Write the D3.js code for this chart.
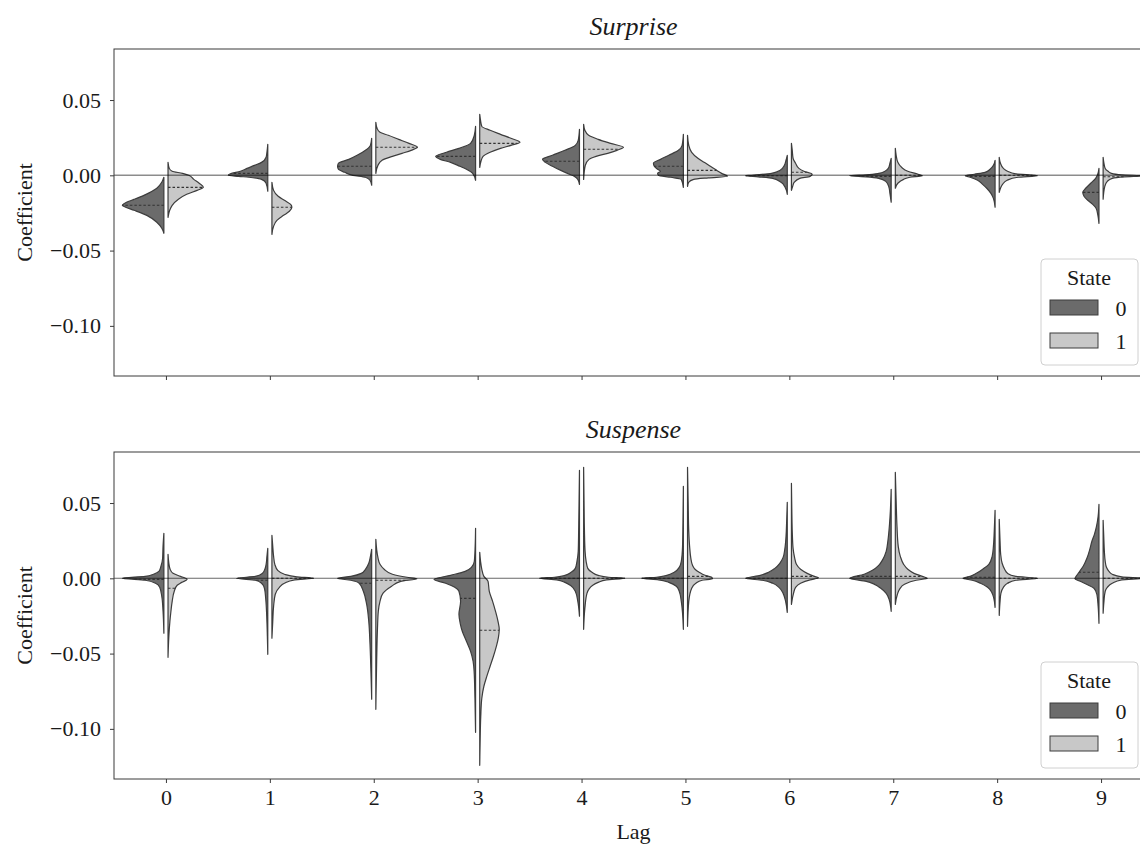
<!DOCTYPE html>
<html>
<head>
<meta charset="utf-8">
<script src="https://cdn.jsdelivr.net/npm/d3@7"></script>
<style>
  body { margin: 0; background: #fff; }
  text { font-family: "Liberation Serif", "Times New Roman", serif; fill: #1a1a1a; }
</style>
</head>
<body>
<div id="chart"></div>
<script>

// lags on the x axis, legend states, y ticks
const lags = [0, 1, 2, 3, 4, 5, 6, 7, 8, 9];
const states = ["0", "1"];
const yTicks = [0.05, 0.00, -0.05, -0.10];
const panelTitles = ["Surprise", "Suspense"];

// violin halves: [coefficient, relative density width]
const surprise0 = [
  [[-0.0013,0],[-0.0046,0.05],[-0.0086,0.17],[-0.0133,0.48],[-0.016,0.72],[-0.0179,0.9],[-0.0199,1.0],[-0.0212,0.92],[-0.0232,0.72],[-0.0266,0.41],[-0.0312,0.17],[-0.0352,0.05],[-0.0385,0]],
  [[0.0206,0],[0.0153,0.02],[0.012,0.04],[0.0086,0.15],[0.0066,0.32],[0.0046,0.5],[0.0027,0.66],[0.001,0.9],[0,0.95],[-0.0007,0.7],[-0.0013,0.45],[-0.0027,0.15],[-0.0053,0.04],[-0.0106,0]],
  [[0.0246,0],[0.0199,0.03],[0.0166,0.15],[0.0133,0.35],[0.0106,0.55],[0.008,0.8],[0.006,0.82],[0.004,0.8],[0.002,0.65],[0,0.45],[-0.0013,0.15],[-0.0033,0.04],[-0.0066,0]],
  [[0.0325,0],[0.0266,0.03],[0.0212,0.12],[0.0179,0.4],[0.0153,0.7],[0.0126,0.96],[0.0106,0.85],[0.0086,0.6],[0.006,0.38],[0.004,0.22],[0.0013,0.07],[-0.0033,0]],
  [[0.0305,0],[0.0232,0.03],[0.0199,0.1],[0.0166,0.35],[0.0133,0.65],[0.0106,0.89],[0.0086,0.82],[0.006,0.65],[0.0033,0.45],[0.0013,0.29],[-0.0007,0.12],[-0.0027,0.04],[-0.006,0]],
  [[0.0272,0],[0.0199,0.03],[0.0166,0.12],[0.0133,0.35],[0.0106,0.55],[0.008,0.72],[0.006,0.7],[0.004,0.62],[0.0027,0.55],[0.0013,0.62],[0,0.6],[-0.0013,0.3],[-0.0027,0.05],[-0.008,0]],
  [[0.0133,0],[0.01,0.03],[0.0066,0.07],[0.0033,0.17],[0.0013,0.38],[0,0.9],[-0.0003,1.0],[-0.001,0.7],[-0.002,0.35],[-0.0046,0.15],[-0.008,0.05],[-0.0126,0]],
  [[0.0113,0],[0.008,0.03],[0.0046,0.07],[0.0027,0.15],[0.0013,0.3],[0.0003,0.6],[-0.0003,1.0],[-0.001,0.6],[-0.002,0.3],[-0.004,0.13],[-0.0073,0.06],[-0.012,0.03],[-0.0179,0]],
  [[0.01,0],[0.0066,0.04],[0.004,0.12],[0.002,0.24],[0.0007,0.5],[-0.0003,0.72],[-0.0013,0.6],[-0.0033,0.42],[-0.006,0.3],[-0.0086,0.2],[-0.012,0.1],[-0.0153,0.04],[-0.0212,0]],
  [[0.0046,0],[0.0007,0.03],[-0.002,0.08],[-0.0053,0.2],[-0.0086,0.32],[-0.0113,0.39],[-0.0139,0.36],[-0.0166,0.27],[-0.0193,0.15],[-0.0219,0.07],[-0.0259,0.03],[-0.0319,0]]
];
const surprise1 = [
  [[0.0086,0],[0.0046,0.03],[0.0027,0.1],[0.0013,0.35],[0,0.5],[-0.0027,0.62],[-0.0053,0.75],[-0.008,0.85],[-0.01,0.7],[-0.0126,0.45],[-0.0159,0.25],[-0.0199,0.1],[-0.0232,0.04],[-0.0279,0]],
  [[-0.0046,0],[-0.01,0.04],[-0.0139,0.15],[-0.0166,0.3],[-0.0193,0.45],[-0.0212,0.48],[-0.0239,0.42],[-0.0266,0.28],[-0.0299,0.12],[-0.0339,0.04],[-0.0392,0]],
  [[0.0352,0],[0.0312,0.03],[0.0286,0.1],[0.0266,0.3],[0.0239,0.55],[0.0212,0.8],[0.0186,1.0],[0.0166,0.85],[0.0146,0.63],[0.0126,0.4],[0.01,0.15],[0.0066,0.05],[0.0013,0]],
  [[0.0405,0],[0.0365,0.02],[0.0325,0.05],[0.0299,0.25],[0.0272,0.5],[0.0246,0.75],[0.0219,0.97],[0.0199,0.75],[0.0179,0.5],[0.0153,0.25],[0.0126,0.08],[0.0093,0.03],[0.0053,0]],
  [[0.0339,0],[0.0299,0.03],[0.0266,0.12],[0.0239,0.35],[0.0212,0.65],[0.0186,0.96],[0.0166,0.8],[0.0146,0.58],[0.0126,0.3],[0.0106,0.13],[0.0066,0.04],[-0.0027,0]],
  [[0.0266,0],[0.0199,0.03],[0.0153,0.1],[0.0113,0.25],[0.0086,0.4],[0.006,0.55],[0.0033,0.7],[0.0013,0.82],[-0.0007,0.96],[-0.0017,0.5],[-0.0027,0.15],[-0.0046,0.03],[-0.0073,0]],
  [[0.0212,0],[0.0166,0.02],[0.0113,0.04],[0.008,0.1],[0.0046,0.18],[0.0027,0.3],[0.0007,0.5],[-0.0007,0.45],[-0.002,0.2],[-0.0046,0.07],[-0.0073,0.03],[-0.01,0]],
  [[0.0179,0],[0.0133,0.02],[0.0086,0.06],[0.0053,0.15],[0.0027,0.3],[0.0007,0.55],[-0.0003,0.65],[-0.0013,0.35],[-0.0027,0.2],[-0.0053,0.06],[-0.0086,0]],
  [[0.012,0],[0.008,0.03],[0.0046,0.1],[0.0027,0.2],[0.001,0.4],[-0.0003,0.92],[-0.0013,0.45],[-0.0033,0.19],[-0.006,0.08],[-0.0086,0.03],[-0.0113,0]],
  [[0.012,0],[0.008,0.02],[0.0046,0.05],[0.0027,0.12],[0.0013,0.2],[0.0003,0.45],[-0.0003,1.0],[-0.001,0.5],[-0.002,0.22],[-0.004,0.1],[-0.0073,0.04],[-0.0159,0]]
];
const suspense0 = [
  [[0.0299,0],[0.0212,0.02],[0.0133,0.03],[0.008,0.07],[0.0046,0.12],[0.0027,0.25],[0.0013,0.45],[0,1.0],[-0.0013,0.45],[-0.0033,0.2],[-0.006,0.1],[-0.012,0.05],[-0.0219,0.02],[-0.0365,0]],
  [[0.0199,0],[0.0146,0.02],[0.0093,0.04],[0.006,0.07],[0.0033,0.13],[0.0013,0.3],[0,0.75],[-0.0013,0.3],[-0.0033,0.15],[-0.0066,0.08],[-0.0133,0.05],[-0.0252,0.025],[-0.0385,0.01],[-0.0505,0]],
  [[0.0193,0],[0.0146,0.03],[0.01,0.07],[0.006,0.15],[0.0033,0.25],[0.0013,0.5],[0,0.82],[-0.0013,0.5],[-0.0033,0.3],[-0.0086,0.2],[-0.0173,0.12],[-0.0286,0.07],[-0.0438,0.04],[-0.0598,0.02],[-0.0803,0]],
  [[0.0332,0],[0.0212,0.01],[0.0113,0.03],[0.0073,0.1],[0.0046,0.25],[0.002,0.6],[-0.0007,1.0],[-0.0033,0.72],[-0.006,0.5],[-0.0086,0.4],[-0.0153,0.36],[-0.0239,0.4],[-0.0299,0.37],[-0.0352,0.32],[-0.0418,0.22],[-0.0485,0.12],[-0.0551,0.06],[-0.0618,0.035],[-0.0797,0.015],[-0.1023,0]],
  [[0.0717,0],[0.0511,0.01],[0.0312,0.02],[0.0179,0.03],[0.0113,0.06],[0.0066,0.1],[0.004,0.2],[0.002,0.35],[0.0007,0.6],[0,0.96],[-0.001,0.55],[-0.0027,0.35],[-0.0046,0.22],[-0.0086,0.1],[-0.0153,0.04],[-0.0252,0]],
  [[0.0611,0],[0.0378,0.01],[0.0212,0.02],[0.0113,0.05],[0.0073,0.1],[0.004,0.22],[0.002,0.4],[0.0007,0.65],[0,1.0],[-0.001,0.6],[-0.0027,0.35],[-0.0053,0.17],[-0.0086,0.1],[-0.0153,0.05],[-0.0232,0.02],[-0.0339,0]],
  [[0.0505,0],[0.0378,0.015],[0.0279,0.03],[0.0193,0.06],[0.0139,0.1],[0.01,0.18],[0.0066,0.3],[0.004,0.45],[0.002,0.65],[0,1.0],[-0.0013,0.6],[-0.0033,0.35],[-0.006,0.2],[-0.01,0.1],[-0.0153,0.04],[-0.0226,0]],
  [[0.0591,0],[0.0445,0.02],[0.0359,0.04],[0.0246,0.08],[0.0179,0.12],[0.0126,0.2],[0.0086,0.3],[0.0053,0.45],[0.0027,0.65],[0,1.0],[-0.002,0.6],[-0.004,0.4],[-0.0066,0.25],[-0.01,0.12],[-0.0139,0.05],[-0.0219,0]],
  [[0.0452,0],[0.0312,0.02],[0.0212,0.04],[0.0146,0.07],[0.0093,0.15],[0.006,0.3],[0.0033,0.45],[0.0013,0.6],[0,0.77],[-0.0013,0.55],[-0.0033,0.35],[-0.006,0.18],[-0.0093,0.08],[-0.0133,0.03],[-0.0193,0]],
  [[0.0491,0],[0.0412,0.02],[0.0345,0.06],[0.0292,0.11],[0.0246,0.17],[0.0193,0.22],[0.0133,0.29],[0.008,0.38],[0.004,0.48],[0.0013,0.55],[-0.0003,0.58],[-0.002,0.45],[-0.004,0.3],[-0.0066,0.12],[-0.0106,0.05],[-0.0186,0.02],[-0.0299,0]]
];
const suspense1 = [
  [[0.0159,0],[0.01,0.02],[0.006,0.05],[0.0033,0.12],[0.0013,0.3],[-0.0007,0.46],[-0.0027,0.33],[-0.0046,0.22],[-0.0086,0.15],[-0.0153,0.1],[-0.0219,0.07],[-0.0286,0.045],[-0.0385,0.02],[-0.0525,0]],
  [[0.0286,0],[0.0212,0.02],[0.0146,0.04],[0.0093,0.07],[0.0053,0.14],[0.0027,0.3],[0.001,0.6],[0,1.0],[-0.001,0.55],[-0.0033,0.3],[-0.006,0.18],[-0.0106,0.08],[-0.0186,0.04],[-0.0286,0.02],[-0.0398,0]],
  [[0.0259,0],[0.0193,0.02],[0.0139,0.05],[0.0093,0.1],[0.006,0.2],[0.0027,0.4],[0.0007,0.75],[-0.0003,0.99],[-0.002,0.6],[-0.0053,0.38],[-0.01,0.17],[-0.0153,0.1],[-0.0219,0.06],[-0.0332,0.04],[-0.0551,0.02],[-0.087,0]],
  [[0.0173,0],[0.0113,0.02],[0.006,0.05],[0.0013,0.1],[-0.002,0.2],[-0.0086,0.23],[-0.0153,0.31],[-0.0219,0.38],[-0.0286,0.44],[-0.0339,0.47],[-0.0392,0.45],[-0.0452,0.4],[-0.0518,0.33],[-0.0584,0.25],[-0.0651,0.17],[-0.0717,0.1],[-0.0797,0.05],[-0.0916,0.025],[-0.1082,0.01],[-0.1242,0]],
  [[0.0737,0],[0.0511,0.01],[0.0312,0.02],[0.0179,0.035],[0.0113,0.06],[0.0066,0.1],[0.004,0.2],[0.002,0.35],[0.0007,0.6],[0,0.99],[-0.001,0.55],[-0.0027,0.35],[-0.0046,0.22],[-0.01,0.08],[-0.0199,0.03],[-0.0339,0]],
  [[0.0737,0],[0.0511,0.015],[0.0312,0.03],[0.0212,0.05],[0.0133,0.08],[0.0086,0.12],[0.006,0.18],[0.004,0.28],[0.002,0.42],[0.0007,0.58],[-0.0003,0.6],[-0.0013,0.35],[-0.0033,0.2],[-0.0066,0.1],[-0.0153,0.03],[-0.0319,0]],
  [[0.0631,0],[0.0445,0.01],[0.0312,0.02],[0.0199,0.04],[0.0133,0.08],[0.0093,0.12],[0.006,0.22],[0.0033,0.38],[0.0013,0.55],[0.0003,0.65],[-0.001,0.45],[-0.0033,0.22],[-0.006,0.1],[-0.01,0.05],[-0.0173,0]],
  [[0.0704,0],[0.0511,0.02],[0.0345,0.04],[0.0212,0.07],[0.0146,0.12],[0.0093,0.2],[0.006,0.3],[0.0033,0.45],[0.0013,0.65],[0,0.77],[-0.0013,0.5],[-0.004,0.22],[-0.0073,0.1],[-0.0106,0.05],[-0.0173,0]],
  [[0.0392,0],[0.0246,0.02],[0.0159,0.035],[0.01,0.07],[0.006,0.13],[0.0033,0.2],[0.0013,0.4],[0,0.92],[-0.0013,0.4],[-0.0033,0.2],[-0.006,0.1],[-0.01,0.04],[-0.0153,0.02],[-0.0246,0]],
  [[0.0385,0],[0.0279,0.015],[0.0179,0.03],[0.0113,0.05],[0.0073,0.08],[0.0046,0.14],[0.0027,0.22],[0.001,0.45],[0,1.0],[-0.001,0.45],[-0.0033,0.22],[-0.006,0.1],[-0.0086,0.05],[-0.0153,0.02],[-0.0232,0]]
];

// median (dashed line) of each half
const surpriseMed0 = [-0.0199, 0.0013, 0.006, 0.0126, 0.0093, 0.006, -0.0003, -0.0007, -0.0007, -0.0113];
const surpriseMed1 = [-0.008, -0.0212, 0.0186, 0.0212, 0.0173, 0.0033, 0.002, 0.0, 0.0, -0.001];
const suspenseMed0 = [-0.0007, -0.0013, -0.0033, -0.0133, 0, 0, 0, 0.0013, 0.0007, 0.004];
const suspenseMed1 = [-0.0066, 0, -0.0013, -0.0345, 0, 0.0013, 0.0013, 0.0013, 0, 0];

const width = 1140, height = 847;
const fills = ["#6b6b6b", "#c8c8c8"];
const edge = "#3d3d3d";

const svg = d3.select("#chart").append("svg")
  .attr("width", width)
  .attr("height", height);

const x = d3.scaleLinear().domain([-0.5, 9.5]).range([114, 1153]);
const halfW = x(0.4) - x(0);
const gap = x(0.02) - x(0);

const panels = [
  { top: 49, bottom: 376, title: panelTitles[0], halves: [surprise0, surprise1], meds: [surpriseMed0, surpriseMed1], zw: 1.6, zo: 0.45 },
  { top: 452, bottom: 779, title: panelTitles[1], halves: [suspense0, suspense1], meds: [suspenseMed0, suspenseMed1], zw: 1.1, zo: 0.6 }
];

// width of a profile at value v (linear between read points)
function widthAt(prof, v) {
  for (let i = 0; i < prof.length - 1; i++) {
    const a = prof[i], b = prof[i + 1];
    if (v <= a[0] && v >= b[0]) {
      const t = a[0] === b[0] ? 0 : (a[0] - v) / (a[0] - b[0]);
      return a[1] + t * (b[1] - a[1]);
    }
  }
  return 0;
}

panels.forEach((p, pi) => {
  const y = d3.scaleLinear().domain([-0.1333, 0.0839]).range([p.bottom, p.top]);
  const g = svg.append("g");

  g.append("clipPath").attr("id", "clip" + pi)
    .append("rect").attr("x", 114).attr("y", p.top)
    .attr("width", 1153 - 114).attr("height", p.bottom - p.top);

  const plot = g.append("g").attr("clip-path", `url(#clip${pi})`);

  p.halves.forEach((series, s) => {
    const side = s === 0 ? -1 : 1;
    series.forEach((prof, i) => {
      const base = x(lags[i]) + side * gap;
      const area = d3.area()
        .curve(d3.curveMonotoneY)
        .y(d => y(d[0]))
        .x0(base)
        .x1(d => base + side * d[1] * halfW);
      plot.append("path")
        .attr("d", area(prof))
        .attr("fill", fills[s])
        .attr("stroke", edge)
        .attr("stroke-width", 1.2)
        .attr("stroke-linejoin", "round");

      const m = p.meds[s][i];
      const mw = widthAt(prof, m);
      plot.append("line")
        .attr("x1", base).attr("x2", base + side * mw * halfW)
        .attr("y1", y(m)).attr("y2", y(m))
        .attr("stroke", "#333")
        .attr("stroke-width", 1.1)
        .attr("stroke-dasharray", "2.5,2");
    });
  });

  // zero line
  plot.append("line")
    .attr("x1", 114).attr("x2", 1153)
    .attr("y1", y(0)).attr("y2", y(0))
    .attr("stroke", "#000")
    .attr("stroke-opacity", p.zo)
    .attr("stroke-width", p.zw);

  // spines
  g.append("rect")
    .attr("x", 114).attr("y", p.top)
    .attr("width", 1153 - 114).attr("height", p.bottom - p.top)
    .attr("fill", "none")
    .attr("stroke", "#3a3a3a")
    .attr("stroke-width", 1);

  const yAxis = g.append("g")
    .attr("transform", "translate(114,0)")
    .call(d3.axisLeft(y).tickValues(yTicks).tickSize(4).tickPadding(9).tickFormat(d3.format(".2f")));
  const xAxis = g.append("g")
    .attr("transform", `translate(0,${p.bottom})`)
    .call(d3.axisBottom(x).tickValues(lags).tickSize(4).tickPadding(6)
      .tickFormat(pi === 0 ? "" : d3.format("d")));
  [yAxis, xAxis].forEach(ax => {
    ax.select(".domain").remove();
    ax.selectAll(".tick line").attr("stroke", "#3a3a3a");
    ax.selectAll("text").attr("font-size", 22).attr("fill", "#1a1a1a")
      .attr("font-family", '"Liberation Serif", serif');
  });

  g.append("text")
    .attr("x", (114 + 1153) / 2).attr("y", p.top - 14)
    .attr("text-anchor", "middle")
    .attr("font-size", 26)
    .attr("font-style", "italic")
    .text(p.title);

  g.append("text")
    .attr("transform", `translate(32,${(p.top + p.bottom) / 2}) rotate(-90)`)
    .attr("text-anchor", "middle")
    .attr("font-size", 22)
    .text("Coefficient");

  // legend
  const lg = g.append("g").attr("transform", `translate(1041,${p.top + 210})`);
  lg.append("rect")
    .attr("width", 97).attr("height", 106).attr("rx", 4)
    .attr("fill", "#fff").attr("fill-opacity", 0.8)
    .attr("stroke", "#d0d0d0").attr("stroke-width", 1);
  lg.append("text")
    .attr("x", 48).attr("y", 26)
    .attr("text-anchor", "middle")
    .attr("font-size", 22)
    .text("State");
  states.forEach((st, s) => {
    lg.append("rect")
      .attr("x", 9).attr("y", 41 + s * 33)
      .attr("width", 48).attr("height", 15)
      .attr("fill", fills[s]).attr("stroke", edge).attr("stroke-width", 1);
    lg.append("text")
      .attr("x", 80).attr("y", 57 + s * 33)
      .attr("text-anchor", "middle")
      .attr("font-size", 22)
      .text(st);
  });
});

svg.append("text")
  .attr("x", (114 + 1153) / 2).attr("y", 839)
  .attr("text-anchor", "middle")
  .attr("font-size", 22)
  .text("Lag");

</script>
</body>
</html>
